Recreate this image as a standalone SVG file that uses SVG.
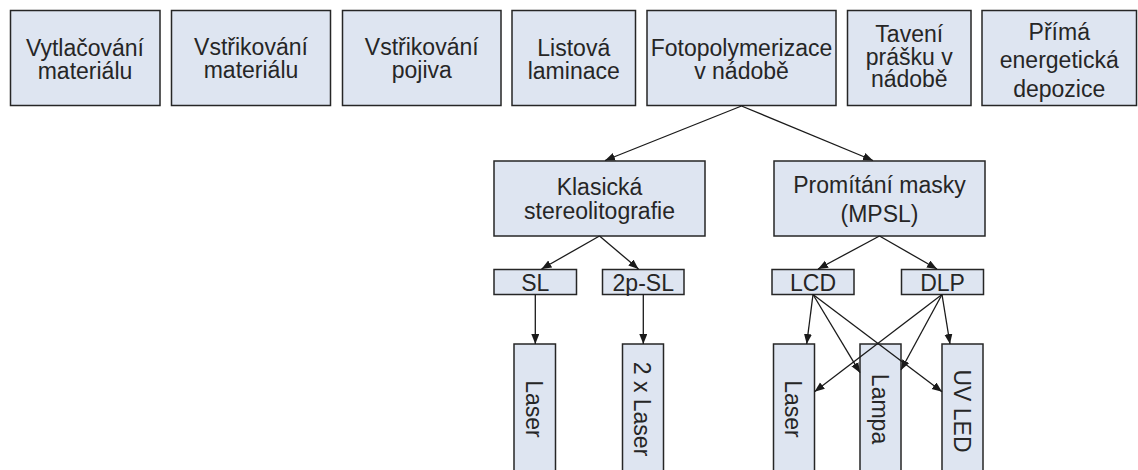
<svg xmlns="http://www.w3.org/2000/svg" width="1138" height="470" viewBox="0 0 1138 470">
<style>
.box{fill:#dee5f1;stroke:#262626;stroke-width:1.5}
.t{font-family:"Liberation Sans",Arial,sans-serif;font-size:23px;fill:#262626;text-anchor:middle}
.c{fill:none;stroke:#1a1a1a;stroke-width:1.3;marker-end:url(#ah)}
</style>
<defs>
<marker id="ah" markerUnits="userSpaceOnUse" markerWidth="11" markerHeight="9" refX="10" refY="4" orient="auto">
<path d="M0,0 L10,4 L0,8 z" fill="#1a1a1a"/>
</marker>
</defs>
<rect width="1138" height="470" fill="#fff"/>

<g id="n1"><rect class="box" x="10.5" y="10.5" width="149.5" height="95"/><text class="t" x="85" y="55.5">Vytlačování</text><text class="t" x="85" y="78.5">materiálu</text></g>
<g id="n2"><rect class="box" x="171.5" y="10.5" width="159" height="95"/><text class="t" x="251" y="55">Vstřikování</text><text class="t" x="251" y="78">materiálu</text></g>
<g id="n3"><rect class="box" x="342.5" y="10.5" width="158.5" height="95"/><text class="t" x="421.75" y="55">Vstřikování</text><text class="t" x="421.75" y="78">pojiva</text></g>
<g id="n4"><rect class="box" x="512" y="10.5" width="123.5" height="95"/><text class="t" x="573.75" y="55.5">Listová</text><text class="t" x="573.75" y="78.5">laminace</text></g>
<g id="n5"><rect class="box" x="647" y="10.5" width="189" height="95"/><text class="t" x="741.5" y="56">Fotopolymerizace</text><text class="t" x="741.5" y="79">v nádobě</text></g>
<g id="n6"><rect class="box" x="847.5" y="10.5" width="123.5" height="95"/><text class="t" x="909.25" y="41.5">Tavení</text><text class="t" x="909.25" y="64.5">prášku v</text><text class="t" x="909.25" y="87">nádobě</text></g>
<g id="n7"><rect class="box" x="982" y="10.5" width="154.5" height="95"/><text class="t" x="1059.25" y="39.5">Přímá</text><text class="t" x="1059.25" y="68">energetická</text><text class="t" x="1059.25" y="96.5">depozice</text></g>

<g id="n8"><rect class="box" x="494" y="161" width="211" height="75"/><text class="t" x="599.5" y="195">Klasická</text><text class="t" x="599.5" y="218.5">stereolitografie</text></g>
<g id="n9"><rect class="box" x="774" y="161" width="211" height="75"/><text class="t" x="879.5" y="193">Promítání masky</text><text class="t" x="879.5" y="222">(MPSL)</text></g>

<g id="n10"><rect class="box" x="494" y="269.5" width="82.5" height="25"/><text class="t" x="535.25" y="290.5">SL</text></g>
<g id="n11"><rect class="box" x="602.5" y="269.5" width="81.5" height="25"/><text class="t" x="643.25" y="290.5">2p-SL</text></g>
<g id="n12"><rect class="box" x="772" y="269.5" width="82" height="25"/><text class="t" x="813" y="290.5">LCD</text></g>
<g id="n13"><rect class="box" x="901.5" y="269.5" width="82" height="25"/><text class="t" x="942.5" y="290.5">DLP</text></g>

<g id="n14"><rect class="box" x="514" y="344" width="41.5" height="130"/><text class="t" transform="translate(526,409) rotate(90)">Laser</text></g>
<g id="n15"><rect class="box" x="622.5" y="344" width="41" height="130"/><text class="t" transform="translate(634,409) rotate(90)">2 x Laser</text></g>
<g id="n16"><rect class="box" x="773.5" y="344" width="41" height="130"/><text class="t" transform="translate(785,409) rotate(90)">Laser</text></g>
<g id="n17"><rect class="box" x="860" y="344" width="41" height="130"/><text class="t" transform="translate(872,409) rotate(90)">Lampa</text></g>
<g id="n18"><rect class="box" x="942" y="344" width="41" height="130"/><text class="t" transform="translate(954,411) rotate(90)">UV LED</text></g>

<g id="connectors">
<line class="c" x1="741.5" y1="106" x2="605" y2="160.5"/>
<line class="c" x1="741.5" y1="106" x2="873" y2="160.5"/>
<line class="c" x1="599.5" y1="236" x2="541.5" y2="269"/>
<line class="c" x1="599.5" y1="236" x2="638.5" y2="269"/>
<line class="c" x1="879.5" y1="236" x2="818" y2="269"/>
<line class="c" x1="879.5" y1="236" x2="937" y2="269"/>
<line class="c" x1="535.3" y1="294.5" x2="535.3" y2="344"/>
<line class="c" x1="643.3" y1="294.5" x2="643.3" y2="344"/>
<line class="c" x1="813" y1="294.5" x2="806.7" y2="344"/>
<line class="c" x1="813" y1="294.5" x2="860" y2="372.7"/>
<line class="c" x1="813" y1="294.5" x2="942" y2="391.7"/>
<line class="c" x1="942" y1="294.5" x2="814.5" y2="391.7"/>
<line class="c" x1="942" y1="294.5" x2="901" y2="370"/>
<line class="c" x1="942" y1="294.5" x2="950" y2="344"/>
</g>
</svg>
